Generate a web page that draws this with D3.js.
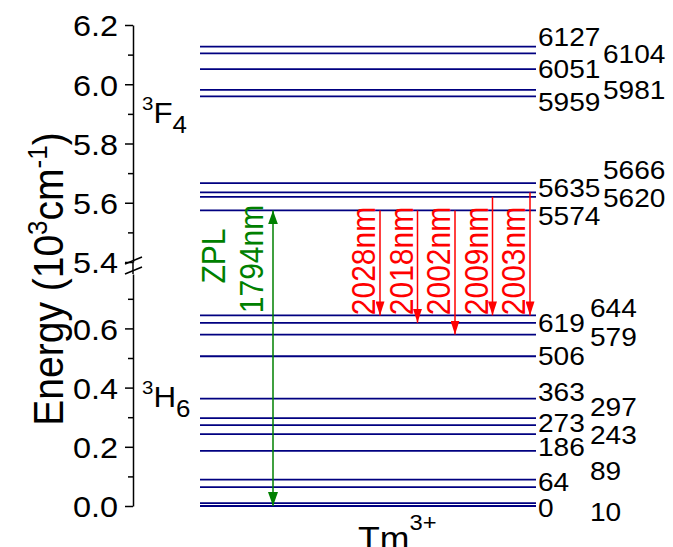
<!DOCTYPE html>
<html>
<head>
<meta charset="utf-8">
<script src="https://cdn.jsdelivr.net/npm/d3@7"></script>
<style>
  body { margin: 0; background: #fff; }
  text { font-family: "Liberation Sans", Arial, sans-serif; }
</style>
</head>
<body>
<div id="chart"></div>
<script>
// Tm3+ Stark levels (cm^-1)
const lowerLevels = [0, 10, 64, 89, 186, 243, 273, 297, 363, 506, 579, 619, 644];
const upperLevels = [5574, 5620, 5635, 5666, 5959, 5981, 6051, 6104, 6127];

// 3F4 -> 3H6 emission lines
const transFrom = [5574, 5574, 5574, 5620, 5635];
const transTo = [644, 619, 579, 644, 644];
const transNm = [2028, 2018, 2002, 2009, 2003];
const zplFrom = 5574, zplTo = 0, zplNm = 1794;

// axis ticks (10^3 cm^-1)
const upperTicks = [5.4, 5.6, 5.8, 6.0, 6.2];
const upperMinor = [5.5, 5.7, 5.9, 6.1];
const lowerTicks = [0.0, 0.2, 0.4, 0.6];
const lowerMinor = [0.1, 0.3, 0.5, 0.7];

// label layout: column (1/2) and small vertical nudge in px
const lowerLabelCol = [1, 2, 1, 2, 1, 2, 1, 2, 1, 1, 2, 1, 2];
const lowerNudge = [2, 9, -5, -9, -4, 1, -3, -11, -7, -1, 2, 0, -8];
const upperLabelCol = [1, 2, 1, 2, 1, 2, 1, 2, 1];
const upperNudge = [5, 1, -5, -14, 5, 0, -1, 0, -10];

const width = 673, height = 547;
const sx = 1.08; // text is a bit wide in the original
const navy = "#000080", red = "#ff0000", green = "#008000";

const svg = d3.select("#chart").append("svg")
  .attr("width", width)
  .attr("height", height);

const axisX = 133;
const yUpper = d3.scaleLinear().domain([5.4, 6.2]).range([262, 25]);
const yLower = d3.scaleLinear().domain([0, 0.7838]).range([506, 274]);
const y = v => v >= 5000 ? yUpper(v / 1000) : yLower(v / 1000);

const x = d3.scaleLinear().domain([0, 1]).range([200, 536]);
const xTrans = d3.scalePoint().domain(transNm).range([380, 530]);
const xZpl = 273;

function put(sel, px, py, rot) {
  return sel.attr("transform", `translate(${px},${py}) scale(${sx},1)` + (rot ? ` rotate(${rot})` : ""));
}

// ---- y axis ----
function drawAxis(scale, major, minor) {
  const g = svg.append("g").attr("transform", `translate(${axisX},0)`);
  g.append("g")
    .call(d3.axisLeft(scale).tickValues(minor).tickSize(5).tickSizeOuter(0).tickFormat(""))
    .call(a => a.select(".domain").remove());
  g.append("g")
    .call(d3.axisLeft(scale).tickValues(major).tickSize(8).tickSizeOuter(0).tickFormat(d3.format(".1f")));
  g.selectAll("line, path").attr("stroke", "#000").attr("stroke-width", 1.5);
  g.selectAll(".tick text")
    .attr("x", 0)
    .attr("dy", "0.36em")
    .attr("font-size", 30)
    .attr("fill", "#000")
    .attr("transform", `translate(-15,0) scale(${sx},1)`);
}
drawAxis(yUpper, upperTicks, upperMinor);
drawAxis(yLower, lowerTicks, lowerMinor);

// axis break
svg.append("line").attr("x1", axisX).attr("x2", axisX).attr("y1", 262).attr("y2", 274)
  .attr("stroke", "#000").attr("stroke-width", 1.5);
[0, 10].forEach(off => {
  svg.append("line")
    .attr("x1", 125).attr("y1", 264 + off)
    .attr("x2", 142).attr("y2", 257 + off)
    .attr("stroke", "#000").attr("stroke-width", 1.5);
});

// axis title
const yt = put(svg.append("text"), 63, 279, -90)
  .attr("text-anchor", "middle")
  .attr("font-size", 39)
  .attr("fill", "#000");
yt.append("tspan").text("Energy (10");
yt.append("tspan").attr("font-size", 26).attr("dy", -15).text("3");
yt.append("tspan").attr("dy", 15).text("cm");
yt.append("tspan").attr("font-size", 26).attr("dy", -15).text("-1");
yt.append("tspan").attr("dy", 15).text(")");

// ---- energy levels ----
const allLevels = lowerLevels.concat(upperLevels);
svg.append("g").selectAll("line")
  .data(allLevels)
  .join("line")
  .attr("x1", x(0)).attr("x2", x(1))
  .attr("y1", d => y(d)).attr("y2", d => y(d))
  .attr("stroke", navy)
  .attr("stroke-width", 1.8);

// level labels
const labelData = lowerLevels.map((v, i) => ({ v, col: lowerLabelCol[i], nudge: lowerNudge[i], up: false }))
  .concat(upperLevels.map((v, i) => ({ v, col: upperLabelCol[i], nudge: upperNudge[i], up: true })));
labelData.forEach(d => {
  const px = d.col === 1 ? 538 : (d.up ? 603 : 590);
  put(svg.append("text"), px, y(d.v) + d.nudge)
    .attr("dy", "0.36em")
    .attr("font-size", 26)
    .attr("fill", "#000")
    .text(d.v);
});

// ---- arrows ----
const defs = svg.append("defs");
function marker(id, color, w, l) {
  defs.append("marker")
    .attr("id", id)
    .attr("markerUnits", "userSpaceOnUse")
    .attr("viewBox", `0 0 ${l} ${w}`)
    .attr("refX", l).attr("refY", w / 2)
    .attr("markerWidth", l).attr("markerHeight", w)
    .attr("orient", "auto-start-reverse")
    .append("path")
    .attr("d", `M0,0L${l},${w / 2}L0,${w}Z`)
    .attr("fill", color);
}
marker("redHead", red, 9, 14);
marker("greenHead", green, 10, 14);

// red emission arrows
transNm.forEach((nm, i) => {
  const ax = xTrans(nm);
  svg.append("line")
    .attr("x1", ax).attr("x2", ax)
    .attr("y1", y(transFrom[i])).attr("y2", y(transTo[i]))
    .attr("stroke", red).attr("stroke-width", 1.5)
    .attr("marker-end", "url(#redHead)");
  put(svg.append("text"), ax - 5, 261, -90)
    .attr("text-anchor", "middle")
    .attr("font-size", 30)
    .attr("fill", red)
    .text(nm + "nm");
});

// green ZPL arrow
svg.append("line")
  .attr("x1", xZpl).attr("x2", xZpl)
  .attr("y1", y(zplFrom)).attr("y2", y(zplTo))
  .attr("stroke", green).attr("stroke-width", 1.5)
  .attr("marker-start", "url(#greenHead)")
  .attr("marker-end", "url(#greenHead)");
put(svg.append("text"), 225, 256, -90)
  .attr("text-anchor", "middle").attr("font-size", 30).attr("fill", green)
  .text("ZPL");
put(svg.append("text"), 263, 259, -90)
  .attr("text-anchor", "middle").attr("font-size", 30).attr("fill", green)
  .text(zplNm + "nm");

// ---- manifold labels ----
function term(px, py, sup, main, sub) {
  const t = put(svg.append("text"), px, py).attr("font-size", 29).attr("fill", "#000");
  t.append("tspan").attr("font-size", 19).attr("dy", -13).text(sup);
  t.append("tspan").attr("dy", 13).text(main);
  t.append("tspan").attr("font-size", 24).attr("dy", 10).text(sub);
}
term(142, 123, "3", "F", "4");
term(142, 407, "3", "H", "6");

// x label
const xt = put(svg.append("text"), 358, 550).attr("font-size", 33).attr("fill", "#000");
xt.append("tspan").text("Tm");
xt.append("tspan").attr("font-size", 22).attr("dy", -20).text("3+");
</script>
</body>
</html>
